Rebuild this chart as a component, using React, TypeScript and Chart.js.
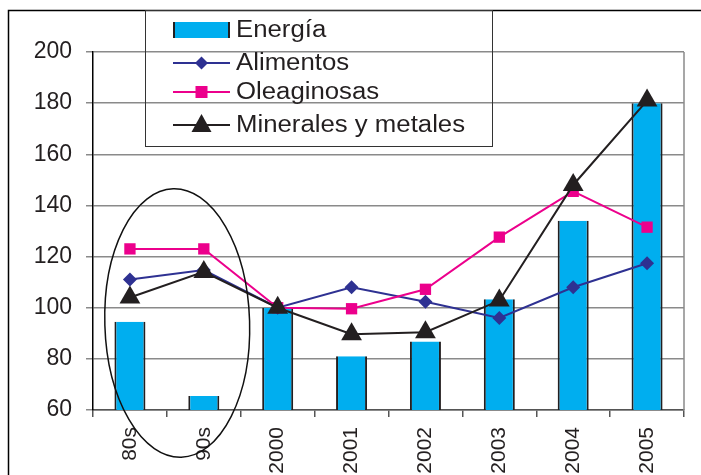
import React, { useEffect, useRef } from 'react';
import { Chart, registerables } from 'chart.js';

Chart.register(...registerables);

const categories = ['80s', '90s', '2000', '2001', '2002', '2003', '2004', '2005'];
const energia = [94.5, 65.5, 100, 81, 86.8, 103.3, 134, 180];
const alimentos = [111, 114.7, 100, 108, 102.3, 96, 108, 117.4];
const oleaginosas = [123, 123, 100, 99.6, 107.2, 127.6, 145.5, 131.5];
const minerales = [104, 114, 100, 89.6, 90.4, 102.8, 148, 181];
const yMin = 60;
const yMax = 200;
const yStep = 20;

const seriesNames = ['Energía', 'Alimentos', 'Oleaginosas', 'Minerales y metales'];

const CYAN = '#00AEEF';
const BLUE = '#2E3192';
const MAGENTA = '#EC008C';
const DARK = '#231F20';
const FONT = "'Liberation Sans', Arial, sans-serif";

const framePlugin = {
  id: 'frame',
  afterDraw(chart: any) {
    const ctx = chart.ctx;
    const area = chart.chartArea;
    const xs = chart.scales.x;
    const ys = chart.scales.y;
    ctx.save();
    // outer frame
    ctx.strokeStyle = '#000';
    ctx.lineWidth = 1.5;
    ctx.beginPath();
    ctx.moveTo(8.5, 475);
    ctx.lineTo(8.5, 10.5);
    ctx.lineTo(701, 10.5);
    ctx.stroke();
    // right plot border
    ctx.strokeStyle = '#8a8a8a';
    ctx.lineWidth = 1.5;
    ctx.beginPath();
    ctx.moveTo(area.right, area.top);
    ctx.lineTo(area.right, area.bottom);
    ctx.stroke();

    // legend box
    ctx.strokeStyle = '#333';
    ctx.lineWidth = 1;
    ctx.strokeRect(145.5, 10.5, 347, 136);
    const rows = [30, 63, 92, 125];
    const mx0 = 173;
    const mx1 = 230;
    const mc = (mx0 + mx1) / 2;
    // Energía
    ctx.fillStyle = CYAN;
    ctx.fillRect(mx0, rows[0] - 8, mx1 - mx0, 16);
    ctx.fillStyle = DARK;
    ctx.fillRect(mx0, rows[0] - 8, 2, 16);
    ctx.fillRect(mx1 - 2, rows[0] - 8, 2, 16);
    // Alimentos
    ctx.strokeStyle = BLUE;
    ctx.lineWidth = 2;
    ctx.beginPath();
    ctx.moveTo(mx0, rows[1]);
    ctx.lineTo(mx1, rows[1]);
    ctx.stroke();
    ctx.fillStyle = BLUE;
    ctx.beginPath();
    ctx.moveTo(mc, rows[1] - 6.5);
    ctx.lineTo(mc + 6.5, rows[1]);
    ctx.lineTo(mc, rows[1] + 6.5);
    ctx.lineTo(mc - 6.5, rows[1]);
    ctx.closePath();
    ctx.fill();
    // Oleaginosas
    ctx.strokeStyle = MAGENTA;
    ctx.beginPath();
    ctx.moveTo(mx0, rows[2]);
    ctx.lineTo(mx1, rows[2]);
    ctx.stroke();
    ctx.fillStyle = MAGENTA;
    ctx.fillRect(mc - 6, rows[2] - 6, 12, 12);
    // Minerales
    ctx.strokeStyle = DARK;
    ctx.beginPath();
    ctx.moveTo(mx0, rows[3]);
    ctx.lineTo(mx1, rows[3]);
    ctx.stroke();
    ctx.fillStyle = DARK;
    ctx.beginPath();
    ctx.moveTo(mc, rows[3] - 11);
    ctx.lineTo(mc + 10, rows[3] + 7);
    ctx.lineTo(mc - 10, rows[3] + 7);
    ctx.closePath();
    ctx.fill();
    // legend text (slightly widened like the reference)
    ctx.fillStyle = DARK;
    ctx.font = `23px ${FONT}`;
    ctx.textBaseline = 'middle';
    ctx.textAlign = 'left';
    seriesNames.forEach((n, i) => {
      ctx.save();
      ctx.translate(236, rows[i] + 1);
      ctx.scale(1.12, 1);
      ctx.fillText(n, 0, 0);
      ctx.restore();
    });

    // ellipse around the 80s / 90s
    const x0 = xs.getPixelForValue(0);
    const x1 = xs.getPixelForValue(1);
    const cx = x0 + 0.64 * (x1 - x0);
    const rx = 0.98 * (x1 - x0);
    const cy = ys.getPixelForValue(94);
    const ry = ys.getPixelForValue(94 - 52.5) - cy;
    ctx.strokeStyle = '#111';
    ctx.lineWidth = 1.5;
    ctx.beginPath();
    ctx.ellipse(cx, cy, rx, ry, -0.03, 0, Math.PI * 2);
    ctx.stroke();
    ctx.restore();
  },
};

export default function App() {
  const ref = useRef<HTMLCanvasElement | null>(null);
  useEffect(() => {
    if (!ref.current) return;
    const chart = new Chart(ref.current, {
      type: 'bar',
      data: {
        labels: categories,
        datasets: [
          {
            type: 'line',
            label: seriesNames[3],
            data: minerales,
            borderColor: DARK,
            backgroundColor: DARK,
            borderWidth: 2,
            pointStyle: 'triangle',
            pointRadius: 12,
            pointBorderWidth: 0,
            order: 0,
          } as any,
          {
            type: 'line',
            label: seriesNames[2],
            data: oleaginosas,
            borderColor: MAGENTA,
            backgroundColor: MAGENTA,
            borderWidth: 2,
            pointStyle: 'rect',
            pointRadius: 8,
            pointBorderWidth: 0,
            order: 1,
          } as any,
          {
            type: 'line',
            label: seriesNames[1],
            data: alimentos,
            borderColor: BLUE,
            backgroundColor: BLUE,
            borderWidth: 2,
            pointStyle: 'rectRot',
            pointRadius: 7,
            pointBorderWidth: 0,
            order: 2,
          } as any,
          {
            type: 'bar',
            label: seriesNames[0],
            data: energia,
            backgroundColor: CYAN,
            borderColor: DARK,
            borderWidth: { left: 2, right: 2, top: 0, bottom: 0 },
            borderSkipped: false,
            barPercentage: 0.42,
            categoryPercentage: 1,
            order: 3,
          } as any,
        ],
      },
      options: {
        animation: false,
        responsive: true,
        maintainAspectRatio: false,
        layout: { padding: { left: 8, top: 52, right: 17, bottom: 0 } },
        plugins: { legend: { display: false }, tooltip: { enabled: false } },
        scales: {
          x: {
            grid: {
              offset: true,
              drawOnChartArea: false,
              drawTicks: true,
              tickLength: 7,
              color: '#555',
              lineWidth: 1.5,
            },
            border: { display: true, color: '#555', width: 1.5 },
            ticks: {
              maxRotation: 90,
              minRotation: 90,
              padding: 10,
              color: DARK,
              font: { family: FONT, size: 21 },
            },
            afterFit: (s: any) => {
              s.height = 65;
            },
          },
          y: {
            min: yMin,
            max: yMax,
            ticks: {
              stepSize: yStep,
              padding: 14,
              color: DARK,
              font: { family: FONT, size: 23 },
            },
            grid: {
              color: '#8a8a8a',
              lineWidth: 1.5,
              tickLength: 7,
              drawTicks: true,
            },
            border: { display: true, color: '#000', width: 1.5 },
            afterFit: (s: any) => {
              s.width = 85;
            },
          },
        },
      },
      plugins: [framePlugin],
    });
    return () => chart.destroy();
  }, []);
  return (
    <div style={{ position: 'fixed', left: 0, top: 0, width: 701, height: 475, background: '#fff' }}>
      <canvas ref={ref} />
    </div>
  );
}
